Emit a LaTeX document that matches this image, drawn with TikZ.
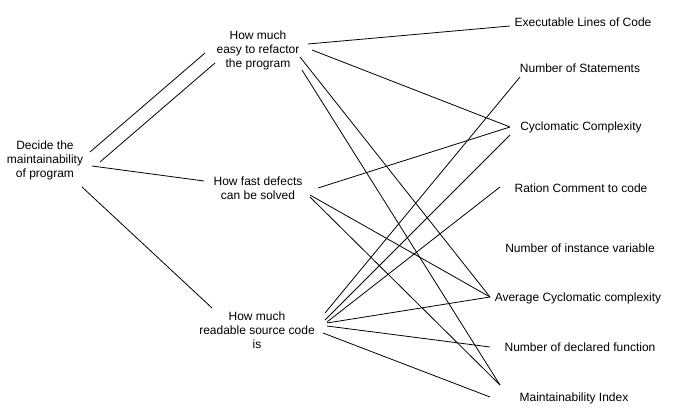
\documentclass[tikz,border=0pt]{standalone}
\usepackage{fontspec}
\setmainfont{Liberation Sans}
\begin{document}
\begin{tikzpicture}[x=1pt,y=-1pt,
  lbl/.style={align=center,inner sep=0pt,font=\fontsize{12}{14}\selectfont},
  conn/.style={draw=black,line width=0.8pt}]
\fill[white] (0,0) rectangle (678,417);
\useasboundingbox (0,0) rectangle (678,417);
% left and middle nodes
\node[lbl] (dec) at (45,160) {Decide the\\maintainability\\of program};
\node[lbl] (ref) at (258,50) {How much\\easy to refactor\\the program};
\node[lbl] (fst) at (258,188) {How fast defects\\can be solved};
\node[lbl] (rdb) at (257,330) {How much\\readable source code\\is};
% right nodes
\node[lbl] (elc) at (583,22) {Executable Lines of Code};
\node[lbl] (nst) at (580,68) {Number of Statements};
\node[lbl] (cyc) at (581,127) {Cyclomatic Complexity};
\node[lbl] (rcc) at (581,188) {Ration Comment to code};
\node[lbl] (niv) at (580,248) {Number of instance variable};
\node[lbl] (acc) at (578,298) {Average Cyclomatic complexity};
\node[lbl] (ndf) at (580,347) {Number of declared function};
\node[lbl] (mix) at (574,398) {Maintainability Index};
\newcommand\lnk[4]{\draw[conn] ([shift={#2}]#1.center) -- ([shift={#4}]#3.center);}
% from decide
\lnk{dec}{(45,-8)}{ref}{(-53,3)}
\lnk{dec}{(55,2)}{ref}{(-43,13)}
\lnk{dec}{(47,6)}{fst}{(-54,-7)}
\lnk{dec}{(37,27)}{rdb}{(-45,-22)}
% from refactor
\lnk{ref}{(50,-6)}{elc}{(-73,4)}
\lnk{ref}{(54,0)}{cyc}{(-71,0)}
\lnk{ref}{(42,7)}{acc}{(-88,-1)}
\lnk{ref}{(44,20)}{mix}{(-74,-13)}
% from fast
\lnk{fst}{(60,0)}{cyc}{(-71,0)}
\lnk{fst}{(52,7)}{acc}{(-88,-1)}
\lnk{fst}{(52,9)}{mix}{(-74,-13)}
% from readable
\lnk{rdb}{(68,-17)}{nst}{(-60,9)}
\lnk{rdb}{(68,-10)}{cyc}{(-71,8)}
\lnk{rdb}{(70,-8)}{rcc}{(-81,-1)}
\lnk{rdb}{(70,-7)}{acc}{(-88,-1)}
\lnk{rdb}{(70,-4)}{ndf}{(-90,0)}
\lnk{rdb}{(66,3)}{mix}{(-84,-1)}
\end{tikzpicture}
\end{document}
